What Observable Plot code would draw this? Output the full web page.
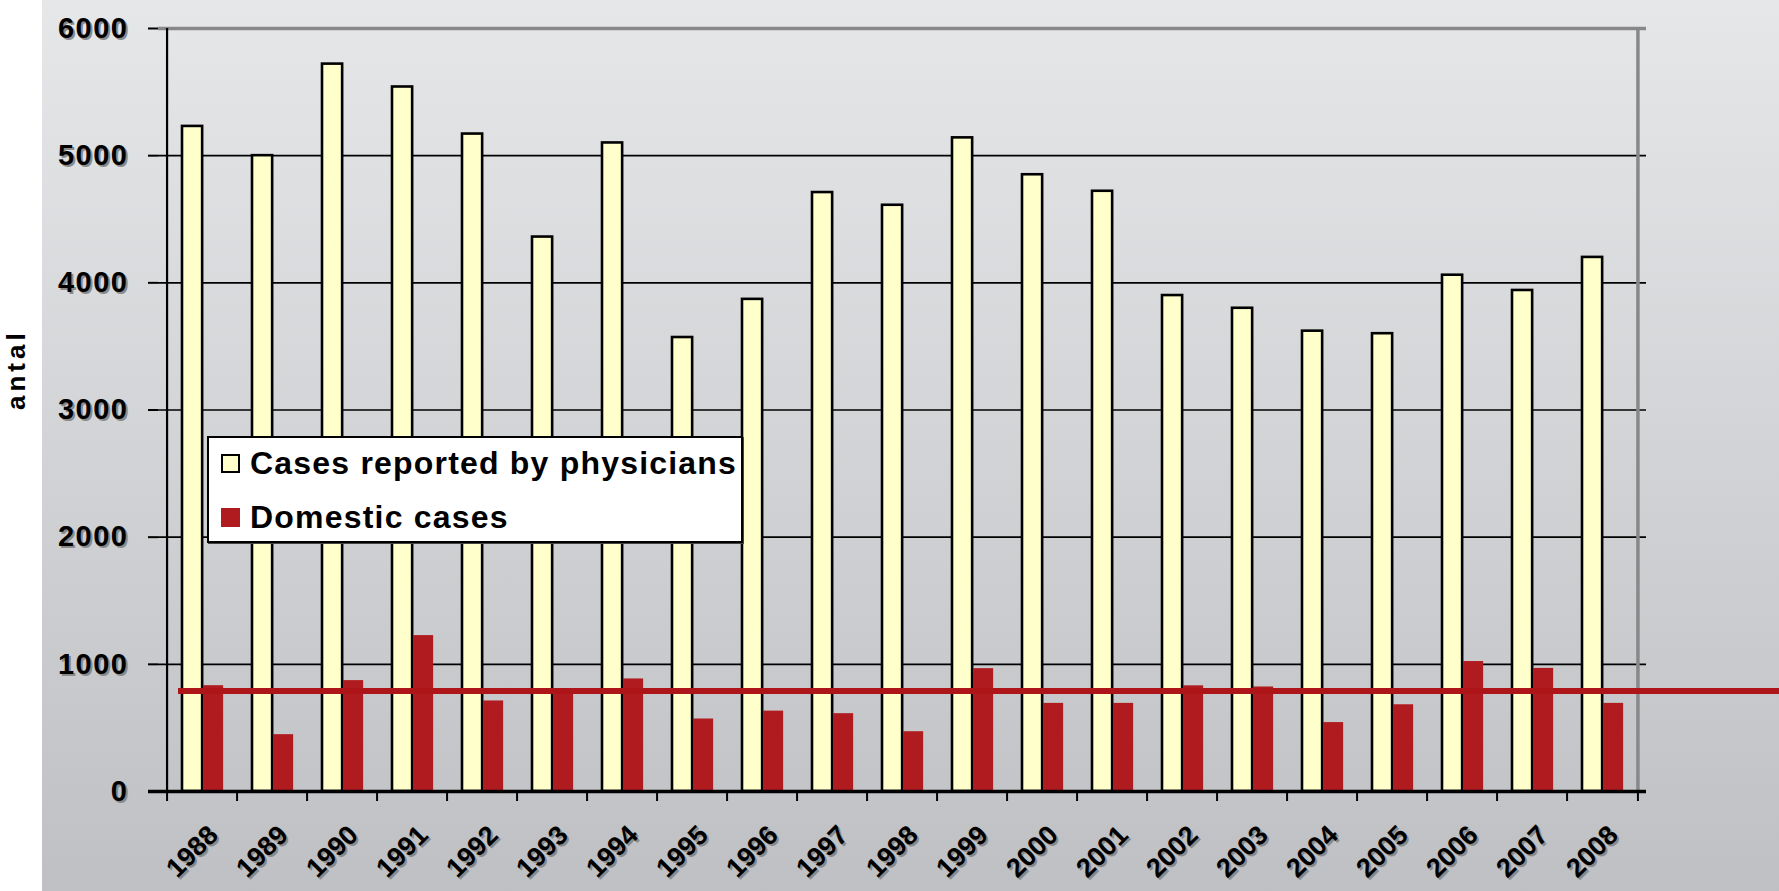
<!DOCTYPE html>
<html><head><meta charset="utf-8">
<script src="https://cdn.jsdelivr.net/npm/d3@7"></script>
<script src="https://cdn.jsdelivr.net/npm/@observablehq/plot@0.6"></script>
<style>
body{margin:0;background:#fff;}
#wrap{position:relative;width:1779px;height:891px;overflow:hidden;}
#legend{position:absolute;left:207px;top:436px;width:536px;height:107px;background:#fff;border:2px solid #000;box-sizing:border-box;box-shadow:1px 1px 0 #444;}
.sw{position:absolute;width:19px;height:19px;box-sizing:border-box;}
.lt{position:absolute;left:41px;font-family:"Liberation Sans",Arial,sans-serif;font-weight:bold;font-size:32px;line-height:32px;letter-spacing:1.2px;color:#000;white-space:nowrap;}
</style>
</head><body>
<div id="wrap"></div>
<script>
const years = ["1988","1989","1990","1991","1992","1993","1994","1995","1996","1997","1998","1999","2000","2001","2002","2003","2004","2005","2006","2007","2008"];
const reported = [5230,5000,5720,5540,5170,4360,5100,3570,3870,4710,4610,5140,4850,4720,3900,3800,3620,3600,4060,3940,4200];
const domestic = [832,447,872,1226,712,795,885,570,632,612,470,966,693,693,831,822,542,682,1022,968,693];
const referenceLevel = 790;
const yTicks = [0,1000,2000,3000,4000,5000,6000];
const gridTicks = [1000,2000,3000,4000,5000];
const seriesNames = ["Cases reported by physicians","Domestic cases"];
const seriesColors = ["#FFFFCC","#B01B1F"];
const yLabel = "antal";

const W = 1779, H = 891, mL = 158, mR = 133, mT = 28, mB = 100;
const bw = (W - mL - mR) / years.length;
const ph = H - mT - mB;
const data = years.map((y,i)=>({year:y, reported:reported[i], domestic:domestic[i]}));
const font = "'Liberation Sans', Arial, sans-serif";

const chart = Plot.plot({
  width: W, height: H,
  marginLeft: mL, marginRight: mR, marginTop: mT, marginBottom: mB,
  x: {type:"band", domain: years, paddingInner:0, paddingOuter:0, axis:null},
  y: {domain:[0,6000], axis:null},
  style: {
    background: "linear-gradient(to right, #fff 0px, #fff 42px, transparent 42px), linear-gradient(to bottom, #e6e7e9, #bec0c3)",
    fontFamily: font
  },
  marks: [
    Plot.ruleY(gridTicks, {stroke:"#000", strokeWidth:1.6}),
    Plot.ruleY([6000], {stroke:"#888", strokeWidth:3.5}),
    Plot.ruleX([years[years.length-1]], {dx: bw/2, stroke:"#888", strokeWidth:3.5}),
    Plot.barY(data, {x:"year", y:"reported", fill:seriesColors[0], stroke:"#000", strokeWidth:2.6, insetLeft:15, insetRight:bw-36}),
    Plot.barY(data, {x:"year", y:"domestic", fill:seriesColors[1], insetLeft:36, insetRight:bw-57}),
    Plot.ruleX([years[0]], {dx:-bw/2, stroke:"#000", strokeWidth:2.2}),
    Plot.ruleY([0], {stroke:"#000", strokeWidth:3.5, insetLeft:-10}),
    Plot.ruleY(yTicks.slice(1), {stroke:"#000", strokeWidth:2, insetLeft:-10, insetRight:W-mL-mR}),
    Plot.ruleX(years, {dx:-bw/2, stroke:"#000", strokeWidth:2, insetTop:ph, insetBottom:-10}),
    Plot.ruleX([years[years.length-1]], {dx:bw/2, stroke:"#000", strokeWidth:2, insetTop:ph, insetBottom:-10}),
    Plot.ruleY([referenceLevel], {stroke:"#AE1519", strokeWidth:6, insetLeft:20, insetRight:-mR}),
    // y tick labels (shadow + text)
    Plot.text(yTicks, {y:d=>d, text:d=>String(d), frameAnchor:"left", dx:-28, dy:2, textAnchor:"end", fontSize:29, fontWeight:"bold", fill:"#8a8a8a"}),
    Plot.text(yTicks, {y:d=>d, text:d=>String(d), frameAnchor:"left", dx:-30, textAnchor:"end", fontSize:29, fontWeight:"bold", fill:"#000"}),
    // x tick labels (shadow + text)
    Plot.text(years, {x:d=>d, text:d=>d, frameAnchor:"bottom", dx:13, dy:41, rotate:-45, textAnchor:"end", lineAnchor:"middle", fontSize:27, fontWeight:"bold", fill:"#8a8a8a"}),
    Plot.text(years, {x:d=>d, text:d=>d, frameAnchor:"bottom", dx:11, dy:39, rotate:-45, textAnchor:"end", lineAnchor:"middle", fontSize:27, fontWeight:"bold", fill:"#000"}),
    // y axis title
    Plot.text([yLabel], {text:d=>d, frameAnchor:"left", dx:-mL+16, rotate:-90, fontSize:26, fontWeight:"bold", fill:"#000"})
  ]
});
const texts = chart.querySelectorAll('g[aria-label="text"]');
if (texts.length >= 5) {
  texts[0].style.letterSpacing = "1.5px";
  texts[1].style.letterSpacing = "1.5px";
  texts[4].style.letterSpacing = "4px";
}
const wrap = document.getElementById("wrap");
wrap.appendChild(chart);

const legend = document.createElement("div");
legend.id = "legend";
seriesNames.forEach((name,i)=>{
  const sw = document.createElement("div");
  sw.className = "sw";
  sw.style.left = "12px";
  sw.style.top = (i===0 ? 16 : 70) + "px";
  sw.style.background = seriesColors[i];
  if (i===0) sw.style.border = "2px solid #000";
  legend.appendChild(sw);
  const t = document.createElement("div");
  t.className = "lt";
  t.style.top = (i===0 ? 9 : 63) + "px";
  t.textContent = name;
  legend.appendChild(t);
});
wrap.appendChild(legend);
</script>
</body></html>
